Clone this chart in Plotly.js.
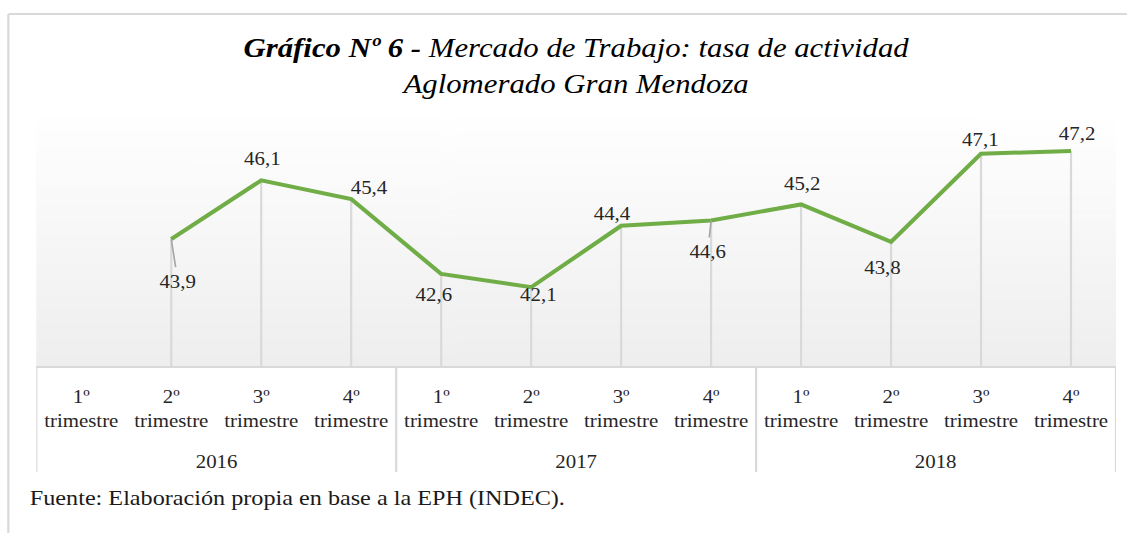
<!DOCTYPE html>
<html>
<head>
<meta charset="utf-8">
<script src="https://cdn.plot.ly/plotly-3.0.1.min.js"></script>
<style>
  html, body { margin: 0; padding: 0; background: #ffffff; overflow: hidden; }
  #wrap { width: 1127px; height: 533px; overflow: hidden; }
  #chart { width: 1025px; height: 533px; transform: scaleX(1.0995); transform-origin: 0 0; }
</style>
</head>
<body>
<div id="wrap"><div id="chart"></div></div>
<script>
// ---- data ----
const years = ['2016', '2017', '2018'];
const quarters = ['1º<br>trimestre', '2º<br>trimestre', '3º<br>trimestre', '4º<br>trimestre'];
const values = [null, 43.9, 46.1, 45.4, 42.6, 42.1, 44.4, 44.6, 45.2, 43.8, 47.1, 47.2];

// ---- label placement (style, pixel offsets before horizontal stretch) ----
const labelDx = [0, 6, 1, 17, -7, 6, -8, -3, 1, -8, -1, 5];
const labelDy = [0, 42, -22, -12, 21, 7, -12, 31, -21, 26, -14, -18];
const labelLeader = [false, true, false, false, false, false, false, true, false, false, false, false];

const FONT = "'Liberation Serif'";
const yMin = 39.15, yMax = 48.55;

const idx = [], tickText = [];
years.forEach(y => quarters.forEach(q => { idx.push(idx.length); tickText.push(q); }));
const nQ = quarters.length;
const groupCenters = years.map((y, k) => k * nQ + (nQ - 1) / 2);
const groupBounds = [-0.5].concat(years.map((y, k) => (k + 1) * nQ - 0.5));

const fmt = v => v.toFixed(1).replace('.', ',');

const dropTrace = {
  type: 'scatter', mode: 'none',
  x: idx, y: values,
  error_y: {
    type: 'data', symmetric: false,
    array: values.map(v => v == null ? null : 0),
    arrayminus: values.map(v => v == null ? null : v - yMin),
    width: 0, thickness: 2, color: '#d9d9d9'
  },
  hoverinfo: 'skip', showlegend: false
};

const lineTrace = {
  type: 'scatter', mode: 'lines',
  x: idx, y: values,
  line: { color: '#70ad47', width: 4 },
  connectgaps: false, showlegend: false
};

const annotations = [];
values.forEach((v, i) => {
  if (v == null) return;
  const base = {
    x: idx[i], y: v, xref: 'x', yref: 'y', text: fmt(v),
    font: { family: FONT, size: 19, color: '#262626' }
  };
  if (labelLeader[i]) {
    annotations.push(Object.assign(base, {
      showarrow: true, arrowhead: 0, arrowwidth: 1.5, arrowcolor: '#a6a6a6',
      ax: labelDx[i], ay: labelDy[i], standoff: 0, startstandoff: 2
    }));
  } else {
    annotations.push(Object.assign(base, {
      showarrow: false, xshift: labelDx[i], yshift: -labelDy[i]
    }));
  }
});

years.forEach((y, k) => {
  annotations.push({
    x: groupCenters[k], xref: 'x', yref: 'paper', y: -0.3785,
    xanchor: 'center', yanchor: 'middle', showarrow: false, text: y,
    font: { family: FONT, size: 19, color: '#262626' }
  });
});

annotations.push({
  xref: 'paper', yref: 'paper', x: -0.0083, y: -0.522,
  xanchor: 'left', yanchor: 'middle', showarrow: false,
  text: 'Fuente: Elaboración propia en base a la EPH (INDEC).',
  font: { family: FONT, size: 22, color: '#1a1a1a' }
});

const cv = document.createElement('canvas');
cv.width = 4; cv.height = 256;
const ctx = cv.getContext('2d');
const g = ctx.createLinearGradient(0, 0, 0, 256);
g.addColorStop(0, '#ffffff');
g.addColorStop(1, '#eeeeee');
ctx.fillStyle = g;
ctx.fillRect(0, 0, 4, 256);
const gradURL = cv.toDataURL('image/png');

const shapes = [
  { type: 'line', xref: 'paper', yref: 'paper', x0: -0.0259, x1: 1.02, y0: 1.402, y1: 1.402,
    line: { color: '#d9d9d9', width: 2 } },
  { type: 'line', xref: 'paper', yref: 'paper', x0: -0.0259, x1: -0.0259, y0: 1.402, y1: -0.7,
    line: { color: '#d9d9d9', width: 2 } }
];
groupBounds.forEach(b => {
  shapes.push({ type: 'line', xref: 'x', yref: 'paper', x0: b, x1: b, y0: 0, y1: -0.4223,
    line: { color: '#d9d9d9', width: 2 } });
});

const layout = {
  width: 1025, height: 533,
  margin: { l: 32.7, r: 10, t: 115, b: 167 },
  paper_bgcolor: '#ffffff',
  plot_bgcolor: 'rgba(0,0,0,0)',
  title: {
    text: '<b><i>Gráfico Nº 6 - </i></b><i>Mercado de Trabajo: tasa de actividad</i><br><i>Aglomerado Gran Mendoza</i>',
    font: { family: FONT, size: 28, color: '#000000' },
    xref: 'paper', x: 0.5, xanchor: 'center',
    yref: 'container', y: 0.893, yanchor: 'top'
  },
  xaxis: {
    type: 'linear',
    range: [-0.5, 11.5],
    tickmode: 'array', tickvals: idx, ticktext: tickText,
    showgrid: false, zeroline: false,
    showline: true, linecolor: '#d9d9d9', linewidth: 2,
    ticks: 'outside', ticklen: 12, tickcolor: 'rgba(0,0,0,0)',
    tickfont: { family: FONT, size: 19, color: '#262626' },
    fixedrange: true
  },
  yaxis: {
    range: [yMin, yMax], visible: false, showgrid: false, zeroline: false, fixedrange: true
  },
  images: [{
    source: gradURL, xref: 'paper', yref: 'paper',
    x: 0, y: 1, sizex: 1, sizey: 1, sizing: 'stretch', layer: 'below',
    xanchor: 'left', yanchor: 'top'
  }],
  shapes: shapes,
  annotations: annotations,
  showlegend: false
};

Plotly.newPlot('chart', [dropTrace, lineTrace], layout, { displayModeBar: false, staticPlot: true });
</script>
</body>
</html>
